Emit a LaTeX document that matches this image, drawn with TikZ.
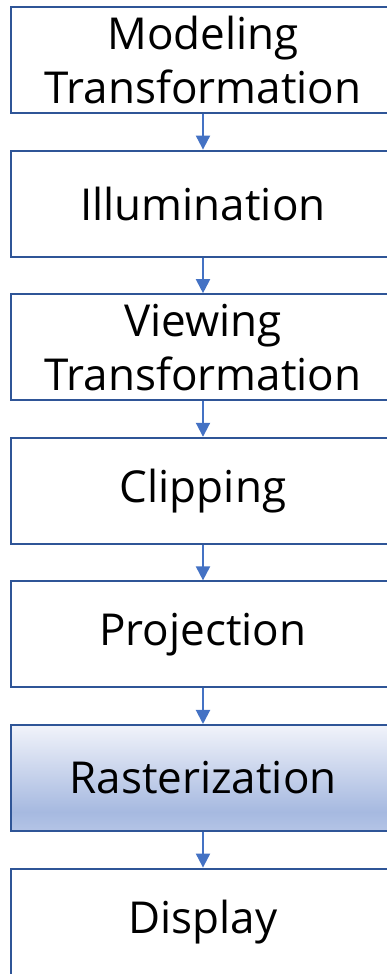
\documentclass[tikz,border=0pt]{standalone}
\usepackage{fontspec}
\setmainfont{Open Sans}
\usetikzlibrary{positioning,arrows.meta}
\definecolor{boxline}{HTML}{2F5597}
\definecolor{arrowblue}{HTML}{4472C4}
\definecolor{rastlow}{HTML}{B4C4E6}
\definecolor{rastdark}{HTML}{A6B9E0}
\definecolor{rasttop}{HTML}{F1F3FA}
\pgfdeclareverticalshading{rastershade}{100bp}{color(0bp)=(rastlow); color(25bp)=(rastlow);
  color(34bp)=(rastdark); color(75bp)=(rasttop); color(100bp)=(rasttop)}
\tikzset{
stage/.style={draw=boxline, line width=2pt, minimum width=384pt, minimum height=106pt,
  inner sep=0pt, align=center, font=\fontsize{44}{54}\selectfont},
flow/.style={draw=arrowblue, line width=2pt, -{Triangle[length=14pt,width=14pt]}}
}
\begin{document}
\begin{tikzpicture}[x=1pt,y=1pt,node distance=35.6pt]
\useasboundingbox (0,0) rectangle (387,974);
\clip (0,0) rectangle (387,974);
\node[stage] (modeling) at (203,914) {Modeling\\Transformation};
\node[stage, below=of modeling] (illumination) {Illumination};
\node[stage, below=of illumination] (viewing) {Viewing\\Transformation};
\node[stage, below=of viewing] (clipping) {Clipping};
\node[stage, below=of clipping] (projection) {Projection};
\node[stage, shading=rastershade, below=of projection] (raster) {Rasterization};
\node[stage, below=of raster] (display) {Display};
\foreach \a/\b in {modeling/illumination, illumination/viewing, viewing/clipping,
  clipping/projection, projection/raster, raster/display}
  \draw[flow] (\a.south) -- (\b.north);
\end{tikzpicture}
\end{document}
